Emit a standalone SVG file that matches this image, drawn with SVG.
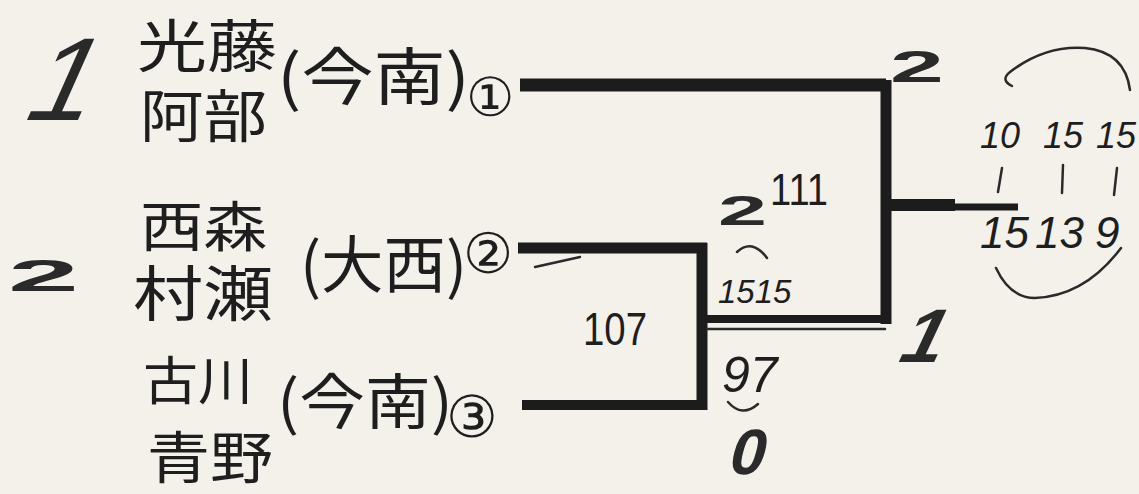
<svg xmlns="http://www.w3.org/2000/svg" width="1139" height="494" viewBox="0 0 1139 494">
<style>
.jp{font-family:"Noto Sans CJK JP","Noto Sans CJK SC",sans-serif;fill:#1e1e1e;}
.cd{font-family:"DejaVu Sans","Noto Sans CJK JP",sans-serif;fill:#1e1e1e;}
.pr{font-family:"Liberation Sans",Arial,sans-serif;fill:#1e1e1e;}
.hw{font-family:"Liberation Sans",Arial,sans-serif;fill:#1e1e1e;font-style:italic;}
.bd{font-family:"Liberation Sans",Arial,sans-serif;fill:#2a2a2a;font-weight:bold;}
.sl{font-family:"Liberation Sans",Arial,sans-serif;fill:#2a2a2a;}
.ln{fill:none;stroke:#1c1c1c;stroke-linejoin:miter;stroke-linecap:butt;}
.pen{fill:none;stroke:#2a2a2a;stroke-width:2.5;stroke-linecap:round;}
</style>
<rect width="1139" height="494" fill="#f3f1ea"/>

<g id="connectors">
<path class="ln" d="M520,85 H886" stroke-width="13"/>
<path class="ln" d="M886,80 V324" stroke-width="11"/>
<path class="ln" d="M518,248 H707" stroke-width="11"/>
<path class="ln" d="M702,243 V410" stroke-width="11"/>
<path class="ln" d="M522,405 H707" stroke-width="10"/>
<path class="ln" d="M702,319 H891" stroke-width="8"/>
<path class="ln" d="M886,205 H955" stroke-width="12"/>
<path class="ln" d="M950,207 H1018" stroke-width="7"/>
<path class="pen" d="M707,329 H885" stroke-width="2"/>
<path class="pen" d="M535,267 L580,257" stroke-width="2"/>
</g>

<g id="team1">
<text class="sl" transform="translate(18,120) skewX(-24)" font-size="118">1</text>
<text class="jp" x="137" y="67" font-size="57" textLength="140" lengthAdjust="spacingAndGlyphs">光藤</text>
<text class="jp" x="140" y="137" font-size="57" textLength="127" lengthAdjust="spacingAndGlyphs">阿部</text>
<text class="jp" x="277" y="100" font-size="62" textLength="193" lengthAdjust="spacingAndGlyphs">(今南)</text>
<text class="cd" x="466" y="116" font-size="54">①</text>
</g>

<g id="team2">
<text class="bd" transform="translate(8,291) scale(2.9,1)" font-size="44">2</text>
<text class="jp" x="140" y="247" font-size="54" textLength="127" lengthAdjust="spacingAndGlyphs">西森</text>
<text class="jp" x="133" y="316" font-size="60" textLength="140" lengthAdjust="spacingAndGlyphs">村瀬</text>
<text class="jp" x="300" y="288" font-size="62" textLength="167" lengthAdjust="spacingAndGlyphs">(大西)</text>
<text class="cd" x="463" y="273" font-size="56">②</text>
</g>

<g id="team3">
<text class="jp" x="143" y="400" font-size="52" textLength="110" lengthAdjust="spacingAndGlyphs">古川</text>
<text class="jp" x="147" y="478" font-size="56" textLength="126" lengthAdjust="spacingAndGlyphs">青野</text>
<text class="jp" x="277" y="424" font-size="60" textLength="176" lengthAdjust="spacingAndGlyphs">(今南)</text>
<text class="cd" x="446" y="437" font-size="58">③</text>
</g>

<g id="match1">
<text class="pr" x="583" y="345" font-size="46" textLength="64" lengthAdjust="spacingAndGlyphs">107</text>
<text class="bd" transform="translate(718,225) scale(2.1,1)" font-size="42">2</text>
<path class="pen" d="M737,252 Q752,238 767,258" stroke-width="2"/>
<text class="hw" x="718" y="303" font-size="33">1515</text>
<text class="hw" x="722" y="392" font-size="50">97</text>
<path class="pen" d="M728,402 Q742,418 758,404" stroke-width="2"/>
<text class="bd" transform="translate(726,474) skewX(-15)" font-size="64">0</text>
</g>

<g id="match2">
<text class="pr" x="770" y="205" font-size="44" textLength="58" lengthAdjust="spacingAndGlyphs">111</text>
<text class="bd" transform="translate(890,82) scale(2.2,1)" font-size="44">2</text>
<text class="bd" transform="translate(894,362) skewX(-25)" font-size="76">1</text>
</g>

<g id="final-scores">
<path class="pen" d="M1012,86 Q1000,80 1010,72 Q1045,45 1085,48 Q1125,52 1130,90"/>
<text class="hw" x="980" y="148" font-size="36">10</text>
<text class="hw" x="1043" y="148" font-size="36">15</text>
<text class="hw" x="1096" y="148" font-size="36">15</text>
<path class="pen" d="M1002,168 L998,192 M1063,165 L1062,193 M1117,168 L1114,195"/>
<text class="hw" x="980" y="248" font-size="44">15</text>
<text class="hw" x="1035" y="248" font-size="44">13</text>
<text class="hw" x="1095" y="248" font-size="44">9</text>
<path class="pen" d="M996,268 Q1010,298 1035,298 Q1085,296 1121,248"/>
</g>
</svg>
